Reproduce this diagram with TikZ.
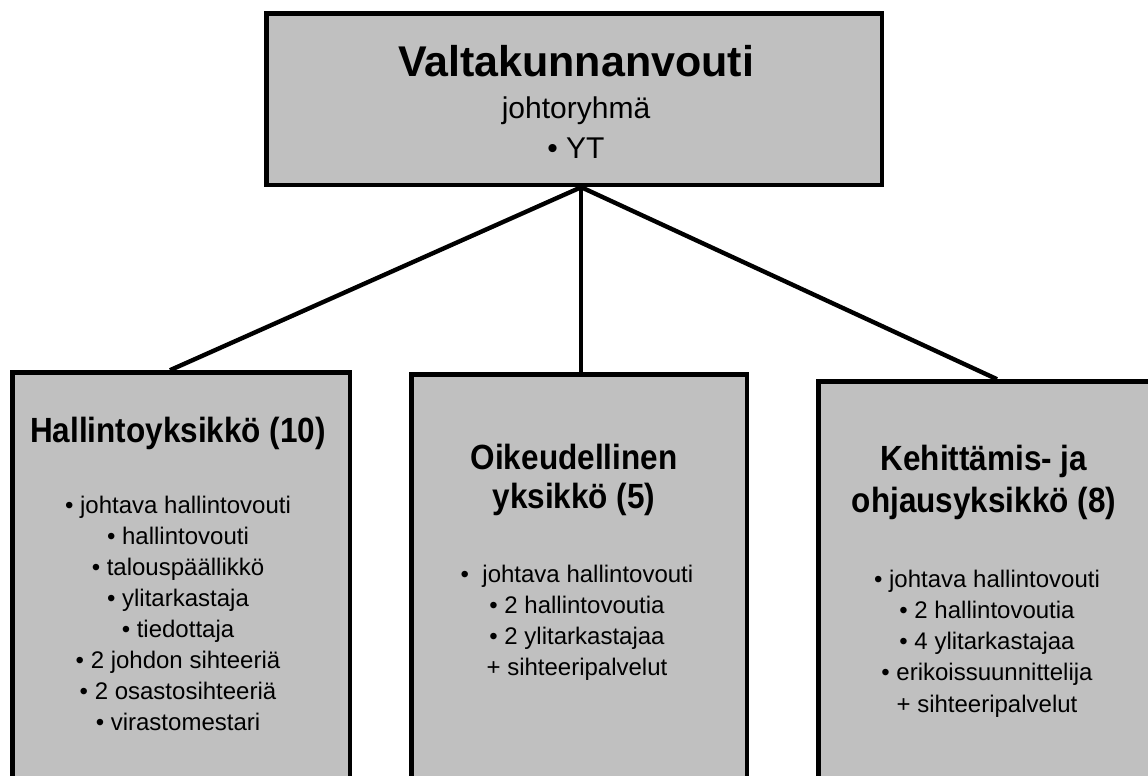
\documentclass[tikz,border=0pt]{standalone}
\usepackage{fontspec}
\setmainfont{Liberation Sans}
\newfontfamily\headfont[FakeStretch=0.9]{Liberation Sans}
\usetikzlibrary{calc}
\definecolor{boxgray}{RGB}{192,192,192}
\begin{document}
\begin{tikzpicture}[x=1pt,y=-1pt,
  unitbox/.style={draw=black, fill=boxgray, line width=4.4pt, inner sep=0pt, anchor=north west},
  link/.style={draw=black, line width=4.4pt},
  headline/.style={anchor=base, inner sep=0pt, font=\headfont\fontsize{35}{40}\selectfont\bfseries},
  itemline/.style={anchor=base, inner sep=0pt, font=\fontsize{24}{28}\selectfont}]
\useasboundingbox (0,0) rectangle (1148,776);
\clip (0,0) rectangle (1148,776);

% boxes
\node[unitbox, minimum width=615.6pt, minimum height=171.6pt] (top) at (264.2,11.2) {};
\node[unitbox, minimum width=337.6pt, minimum height=440pt] (hal) at (10.2,370.2) {};
\node[unitbox, minimum width=335.6pt, minimum height=440pt] (oik) at (409.2,372.2) {};
\node[unitbox, minimum width=344pt, minimum height=440pt] (keh) at (816.2,379.2) {};

% connectors from the head office to the units
\coordinate (hub) at ($(top.south)+(7,0)$);
\draw[link] (hub) -- ($(hal.north west)+(159.8,0)$);
\draw[link] (hub) -- ($(oik.north)+(2,0)$);
\draw[link] (hub) -- ($(keh.north west)+(180.8,0)$);

% head office
\node[anchor=base, inner sep=0pt, font=\fontsize{43}{50}\selectfont\bfseries] (t1) at (576,76) {Valtakunnanvouti};
\node[anchor=base, inner sep=0pt, font=\fontsize{30}{36}\selectfont] (t2) at (576,118) {johtoryhmä};
\node[anchor=base, inner sep=0pt, font=\fontsize{30}{36}\selectfont] (t3) at (576,158) {• YT};

% administrative unit
\node[headline] (h1) at (178,442) {Hallintoyksikkö (10)};
\foreach \txt [count=\i] in {• johtava hallintovouti, • hallintovouti, • talouspäällikkö, • ylitarkastaja, • tiedottaja, • 2 johdon sihteeriä, • 2 osastosihteeriä, • virastomestari}
  \node[itemline] (h-\i) at (178,{482+31*\i}) {\txt};

% legal unit
\node[headline] (o1) at (574,469) {Oikeudellinen};
\node[headline] (o2) at (574,508) {yksikkö (5)};
\foreach \txt [count=\i] in {•\ \ johtava hallintovouti, • 2 hallintovoutia, • 2 ylitarkastajaa, + sihteeripalvelut}
  \node[itemline] (o-\i) at (577,{551+31*\i}) {\txt};

% development and steering unit
\node[headline] (k1) at (984,470) {Kehittämis- ja};
\node[headline] (k2) at (984,512) {ohjausyksikkö (8)};
\foreach \txt [count=\i] in {• johtava hallintovouti, • 2 hallintovoutia, • 4 ylitarkastajaa, • erikoissuunnittelija, + sihteeripalvelut}
  \node[itemline] (k-\i) at (987,{556+31.2*\i}) {\txt};
\end{tikzpicture}
\end{document}
